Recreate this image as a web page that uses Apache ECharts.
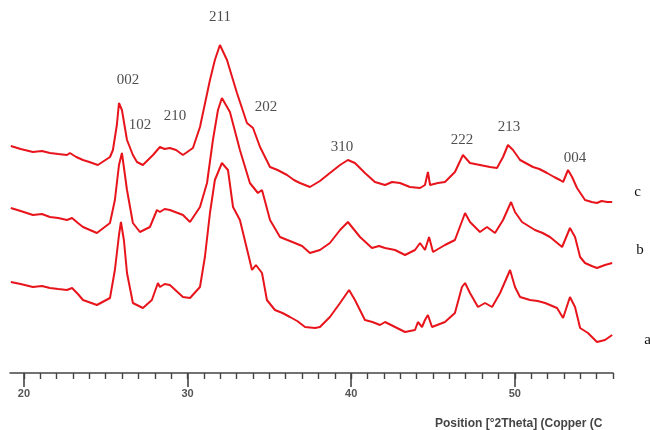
<!DOCTYPE html>
<html>
<head>
<meta charset="utf-8">
<script src="https://cdn.jsdelivr.net/npm/echarts@6/dist/echarts.min.js"></script>
<style>
  html, body { margin: 0; padding: 0; background: #fff; }
  #chart { width: 650px; height: 430px; }
</style>
</head>
<body>
<div id="chart"></div>
<script>
// 2θ positions (degrees) and offset intensities for each pattern
const thetaC = [19.2, 19.8, 20.55, 21.1, 21.59, 22.1, 22.63, 22.81, 23.2, 23.61, 24.0, 24.52, 25.26, 25.44, 25.68, 25.81, 25.99, 26.30, 26.66, 26.91, 27.27, 27.89, 28.31, 28.6, 28.92, 29.3, 29.72, 30.33, 30.76, 31.37, 31.67, 31.98, 32.10, 32.41, 33.02, 33.63, 34.00, 34.43, 35.04, 35.5, 36.08, 36.5, 36.87, 37.48, 38.09, 38.70, 39.32, 39.80, 40.23, 40.84, 41.45, 42.07, 42.5, 42.98, 43.59, 44.21, 44.51, 44.69, 44.82, 45.3, 45.73, 46.34, 46.83, 47.26, 47.87, 48.48, 48.91, 49.28, 49.58, 49.89, 50.32, 51.11, 51.5, 51.97, 52.4, 52.76, 52.95, 53.25, 53.50, 53.80, 54.29, 54.7, 55.02, 55.3, 55.64, 55.95];
const valC = [227, 224, 221, 222, 220, 219, 218, 220, 216, 213, 211, 208, 216, 223, 248, 270, 263, 233, 218, 211, 208, 218, 226, 224, 225, 223, 218, 225, 246, 293, 313, 328, 326, 313, 280, 250, 245, 226, 206, 203, 198, 193, 190, 186, 192, 200, 208, 213, 210, 200, 191, 188, 191, 190, 186, 185, 188, 201, 188, 190, 191, 201, 218, 210, 208, 206, 205, 216, 228, 223, 213, 206, 204, 200, 196, 193, 191, 203, 196, 185, 173, 171, 170, 172, 171, 171];

const thetaB = [19.2, 19.8, 20.55, 21.1, 21.59, 22.1, 22.63, 22.94, 23.3, 23.61, 24.46, 25.26, 25.56, 25.81, 25.99, 26.30, 26.66, 27.09, 27.70, 28.13, 28.31, 28.6, 28.92, 29.72, 30.15, 30.76, 31.19, 31.55, 31.86, 32.10, 32.59, 33.20, 33.81, 34.30, 34.55, 35.04, 35.65, 36.1, 36.56, 37.0, 37.48, 38.09, 38.70, 39.32, 39.80, 40.54, 41.27, 41.7, 42.07, 42.68, 43.29, 43.90, 44.21, 44.51, 44.76, 45.00, 45.73, 46.34, 46.96, 47.26, 47.87, 48.30, 48.79, 49.28, 49.77, 50.01, 50.44, 51.23, 51.7, 52.15, 52.89, 53.37, 53.68, 53.99, 54.29, 54.7, 55.02, 55.51, 55.95];
const valB = [165, 162, 158, 159, 156, 155, 153, 155, 150, 146, 140, 150, 173, 208, 220, 183, 150, 141, 146, 163, 161, 164, 163, 158, 151, 166, 190, 233, 263, 275, 261, 223, 190, 180, 183, 153, 136, 133, 130, 127, 120, 123, 130, 143, 151, 136, 125, 127, 125, 123, 118, 123, 130, 123, 136, 121, 128, 133, 160, 151, 141, 146, 140, 153, 171, 161, 151, 143, 140, 136, 126, 145, 136, 116, 110, 107, 105, 108, 110];

const thetaA = [19.2, 19.8, 20.55, 21.1, 21.59, 22.1, 22.63, 22.94, 23.3, 23.61, 24.46, 25.26, 25.56, 25.81, 25.93, 26.11, 26.30, 26.66, 27.27, 27.82, 28.19, 28.31, 28.6, 28.92, 29.72, 30.15, 30.76, 31.06, 31.37, 31.67, 32.10, 32.47, 32.78, 33.20, 33.69, 33.94, 34.18, 34.55, 34.85, 35.34, 35.8, 36.26, 36.7, 37.18, 37.79, 38.09, 38.70, 39.32, 39.87, 40.23, 40.84, 41.3, 41.76, 42.07, 42.68, 43.29, 43.90, 44.08, 44.33, 44.51, 44.69, 44.94, 45.73, 46.34, 46.77, 46.96, 47.26, 47.75, 48.18, 48.61, 49.10, 49.71, 50.01, 50.32, 50.93, 51.4, 51.85, 52.58, 52.95, 53.37, 53.68, 53.99, 54.47, 55.02, 55.51, 55.95];
const valA = [91, 89, 86, 87, 85, 84, 83, 85, 79, 73, 68, 75, 103, 138, 151, 133, 100, 70, 65, 73, 90, 86, 89, 88, 76, 75, 86, 116, 160, 193, 210, 203, 166, 153, 120, 103, 108, 100, 73, 63, 60, 56, 52, 46, 45, 46, 56, 70, 83, 73, 53, 51, 48, 51, 46, 41, 43, 51, 46, 53, 58, 46, 51, 60, 86, 90, 80, 66, 70, 66, 80, 103, 86, 76, 73, 72, 70, 65, 55, 76, 66, 45, 40, 31, 33, 38];

// reflection labels (hkl) and where they sit
const peakNames = ['002', '102', '210', '211', '202', '310', '222', '213', '004'];
const peakX = [26.36, 27.09, 29.23, 31.98, 34.79, 39.44, 46.77, 49.65, 53.68];
const peakY = [293, 248, 257, 356, 266, 226, 233, 246, 215];

const majorTicks = [20, 30, 40, 50];
const minorTicks = [];
for (let t = 20; t <= 56; t++) minorTicks.push(t);

const red = '#e8141c';

function toPairs(xs, ys) {
  return xs.map((x, i) => [x, ys[i]]);
}

function lineSeries(name, xs, ys, offset) {
  return {
    name: name,
    type: 'line',
    data: toPairs(xs, ys),
    showSymbol: false,
    symbol: 'none',
    lineStyle: { color: red, width: 2 },
    silent: true,
    endLabel: {
      show: true,
      formatter: name,
      offset: offset,
      color: '#111',
      fontFamily: 'Liberation Serif',
      fontSize: 15
    }
  };
}

const chart = echarts.init(document.getElementById('chart'));
chart.setOption({
  animation: false,
  grid: { left: 10, right: 37, top: 13, bottom: 57 },
  xAxis: [
    {
      type: 'value',
      min: 19.15,
      max: 56,
      position: 'bottom',
      axisLine: { show: true, lineStyle: { color: '#444', width: 1.6 } },
      axisTick: { show: true, customValues: majorTicks, length: 14, lineStyle: { color: '#444', width: 1.6 } },
      axisLabel: {
        show: true,
        customValues: majorTicks,
        color: '#555',
        fontFamily: 'Liberation Sans',
        fontWeight: 'bold',
        fontSize: 11,
        margin: 15
      },
      splitLine: { show: false }
    },
    {
      type: 'value',
      min: 19.15,
      max: 56,
      position: 'bottom',
      axisLine: { show: false },
      axisTick: { show: true, customValues: minorTicks, length: 6, lineStyle: { color: '#444', width: 1.4 } },
      axisLabel: { show: false },
      splitLine: { show: false }
    }
  ],
  yAxis: { type: 'value', min: 0, max: 360, show: false },
  graphic: [
    {
      type: 'text',
      left: 435,
      top: 418,
      style: {
        text: 'Position [°2Theta] (Copper (C',
        fill: '#444',
        font: 'bold 12px "Liberation Sans"'
      }
    }
  ],
  series: [
    lineSeries('a', thetaA, valA, [24, 5]),
    lineSeries('b', thetaB, valB, [16, -13]),
    lineSeries('c', thetaC, valC, [14, -10]),
    {
      type: 'scatter',
      symbolSize: 0,
      silent: true,
      data: peakNames.map((n, i) => ({ name: n, value: [peakX[i], peakY[i]] })),
      label: {
        show: true,
        position: 'inside',
        formatter: '{b}',
        color: '#222',
        fontFamily: 'Liberation Serif',
        fontSize: 15
      }
    }
  ]
});
</script>
</body>
</html>
